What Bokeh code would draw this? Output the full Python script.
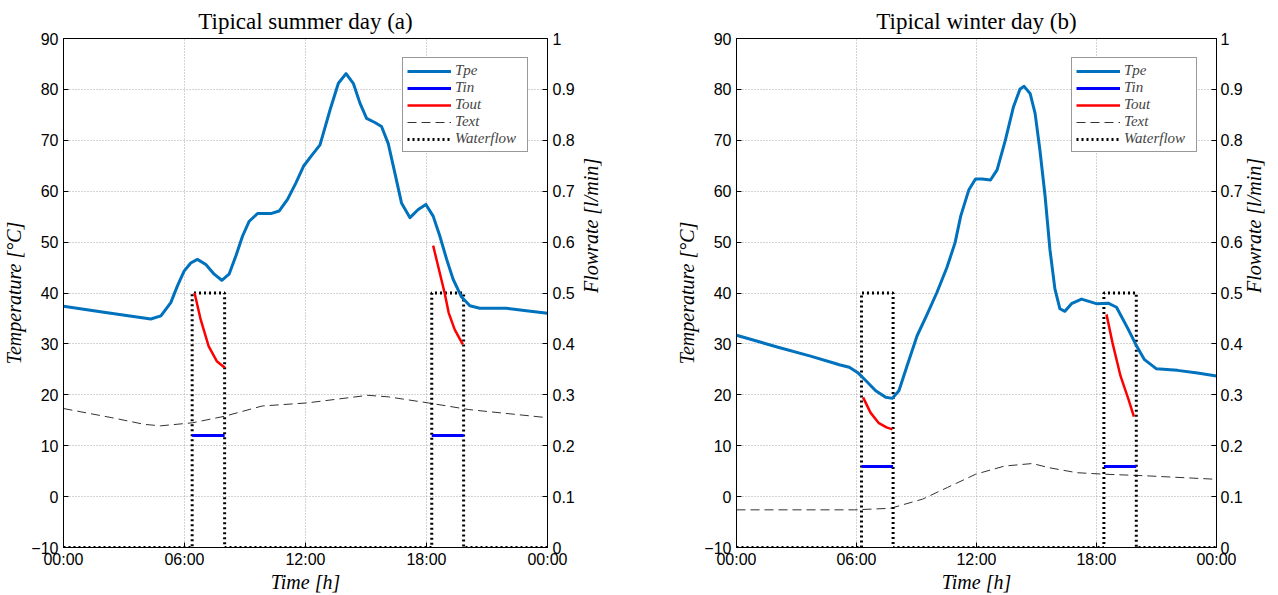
import math
from bokeh.plotting import figure
from bokeh.models import Range1d, LinearAxis, FixedTicker, Legend, LegendItem
from bokeh.layouts import row
from bokeh.embed import file_html
from bokeh.resources import INLINE

# ---------------- data ----------------
x_ticks = [0, 6, 12, 18, 24]
x_tick_labels = ["00:00", "06:00", "12:00", "18:00", "00:00"]
temp_ticks = list(range(-10, 91, 10))
flow_ticks = [0, 0.1, 0.2, 0.3, 0.4, 0.5, 0.6, 0.7, 0.8, 0.9, 1]
flow_tick_labels = ["0", "0.1", "0.2", "0.3", "0.4", "0.5", "0.6", "0.7", "0.8", "0.9", "1"]

# summer
summer_tpe_h = [0, 2, 4.33, 4.83, 5.32, 5.65, 5.98, 6.31, 6.64, 7.06, 7.47, 7.85, 8.21, 8.55,
                8.88, 9.21, 9.62, 10.28, 10.69, 11.11, 11.52, 11.9, 12.3, 12.72, 13.22, 13.63,
                14.01, 14.37, 14.7, 15.03, 15.44, 15.77, 16.1, 16.43, 16.76, 17.18, 17.59,
                17.97, 18.33, 18.66, 19.0, 19.32, 19.74, 20.15, 20.64, 21.96, 22.95, 24]
summer_tpe = [37.4, 36.2, 34.9, 35.5, 38.1, 41.4, 44.3, 45.9, 46.6, 45.6, 43.7, 42.5, 43.7, 47.3,
              51.2, 54.1, 55.6, 55.6, 56.1, 58.4, 61.6, 64.9, 67.0, 69.1, 76.0, 81.2,
              83.1, 81.2, 77.3, 74.3, 73.5, 72.7, 69.4, 63.6, 57.7, 54.8, 56.4,
              57.4, 55.1, 51.2, 46.6, 42.7, 39.2, 37.5, 37.0, 37.0, 36.5, 36.0]
summer_text_h = [0, 2.4, 4.0, 4.8, 6.4, 8.0, 9.85, 12.07, 15.1, 16.1, 18.1, 20.1, 24]
summer_text = [17.3, 15.5, 14.2, 13.9, 14.5, 15.8, 17.8, 18.4, 19.9, 19.6, 18.4, 17.1, 15.5]
summer_tout1_h = [6.5, 6.8, 7.2, 7.6, 8.0]
summer_tout1 = [40.0, 34.8, 29.5, 26.6, 25.3]
summer_tout2_h = [18.33, 18.9, 19.1, 19.4, 19.8]
summer_tout2 = [49.3, 40.0, 36.1, 32.8, 29.9]
summer_pulses = [(6.38, 7.99), (18.26, 19.84)]
summer_tin = 12.0

# winter
winter_tpe_h = [0, 2.03, 3.7, 4.9, 5.14, 5.64, 6.05, 6.46, 6.96, 7.46, 7.79, 8.12, 8.53, 9.03,
                9.53, 10.02, 10.52, 10.93, 11.21, 11.62, 11.95, 12.28, 12.7, 13.03, 13.44,
                13.85, 14.18, 14.38, 14.68, 14.93, 15.17, 15.43, 15.67, 15.92, 16.17, 16.42,
                16.75, 17.25, 17.99, 18.58, 19.0, 19.57, 19.99, 20.4, 21.0, 22.05, 23.05, 24]
winter_tpe = [31.7, 29.4, 27.6, 26.2, 25.9, 25.4, 24.4, 22.8, 20.8, 19.5, 19.3, 20.8, 25.7, 31.6,
              35.8, 40.1, 45.0, 49.9, 55.1, 60.3, 62.4, 62.4, 62.2, 64.2, 70.0,
              76.6, 80.1, 80.6, 79.2, 75.3, 68.1, 59.0, 48.6, 40.8, 36.9, 36.4,
              37.9, 38.8, 37.9, 38.0, 37.2, 33.0, 29.7, 26.9, 25.1, 24.8, 24.3, 23.7]
winter_text_h = [0, 5.9, 7.7, 9.3, 10.55, 11.96, 13.4, 14.8, 15.6, 17.0, 18.4, 20.4, 24]
winter_text = [-2.6, -2.6, -2.3, -0.5, 1.8, 4.4, 6.0, 6.5, 5.7, 4.7, 4.4, 4.1, 3.4]
winter_tout1_h = [6.33, 6.7, 7.1, 7.5, 7.8]
winter_tout1 = [19.5, 16.5, 14.5, 13.6, 13.2]
winter_tout2_h = [18.5, 18.8, 19.2, 19.6, 19.87]
winter_tout2 = [35.8, 30.2, 23.7, 19.1, 15.7]
winter_pulses = [(6.25, 7.83), (18.37, 19.99)]
winter_tin = 5.9

flow_level = 0.5

TPE_C = "#0072BD"
SANS = "Liberation Sans"
SERIF = "Liberation Serif"


def make_panel(title, tpe_h, tpe, text_h, text, t1h, t1, t2h, t2, pulses, tin,
               border_left, border_right, r_tick_standoff, r_label_standoff):
    p = figure(width=639, height=595,
               x_range=Range1d(0, 24), y_range=Range1d(-10, 90),
               output_backend="svg", toolbar_location=None,
               min_border_left=border_left, min_border_right=border_right,
               min_border_top=38, min_border_bottom=46)
    p.extra_y_ranges = {"flow": Range1d(0, 1)}
    p.title.text = title
    p.title.text_font = SERIF
    p.title.text_font_size = "23px"
    p.title.text_font_style = "normal"
    p.title.text_color = "black"
    p.title.align = "center"
    p.title.offset = 0
    p.title.standoff = 9

    p.outline_line_color = "black"
    p.outline_line_width = 1
    p.outline_line_alpha = 1
    p.background_fill_color = "white"
    p.border_fill_color = "white"

    # axes
    p.xaxis.ticker = FixedTicker(ticks=x_ticks)
    p.xaxis.major_label_overrides = {t: l for t, l in zip(x_ticks, x_tick_labels)}
    p.xaxis.axis_label = "Time [h]"
    p.yaxis.ticker = FixedTicker(ticks=temp_ticks)
    p.yaxis.axis_label = "Temperature [°C]"

    ax_r = LinearAxis(y_range_name="flow", ticker=FixedTicker(ticks=flow_ticks),
                      major_label_overrides={t: l for t, l in zip(flow_ticks, flow_tick_labels)},
                      axis_label="Flowrate [l/min]")
    ax_r.axis_label_orientation = math.pi / 2
    p.add_layout(ax_r, "right")

    for ax in [p.xaxis[0], p.yaxis[0], ax_r]:
        ax.major_label_text_font = SANS
        ax.major_label_text_font_size = "16px"
        ax.major_label_text_color = "black"
        ax.axis_label_text_font = SERIF
        ax.axis_label_text_font_style = "italic"
        ax.axis_label_text_font_size = "20px"
        ax.axis_label_text_color = "black"
        ax.major_tick_in = 5
        ax.major_tick_out = 0
        ax.minor_tick_in = 0
        ax.minor_tick_out = 0
        ax.axis_line_color = "black"
        ax.major_tick_line_color = "black"
        ax.major_label_standoff = 5
        ax.axis_label_standoff = 3
    ax_r.major_label_standoff = r_tick_standoff
    ax_r.axis_label_standoff = r_label_standoff
    ax_r.axis_label_text_line_height = 1.0
    p.xaxis.major_label_standoff = 3
    p.xaxis.axis_label_standoff = 0
    p.xaxis.major_label_text_line_height = 1.0
    p.xaxis.axis_label_text_line_height = 1.0

    for g in [p.xgrid[0], p.ygrid[0]]:
        g.grid_line_color = "#a8a8a8"
        g.grid_line_dash = "1 2"
        g.grid_line_width = 1
    p.xgrid.ticker = FixedTicker(ticks=x_ticks)
    p.ygrid.ticker = FixedTicker(ticks=temp_ticks)

    # Text (outdoor)
    r_text = p.line(text_h, text, line_color="#333333", line_width=1, line_dash="9 5")
    # Waterflow step series
    fx, fy = [0], [0]
    for a, b in pulses:
        fx += [a, a, b, b]
        fy += [0, flow_level, flow_level, 0]
    fx.append(24)
    fy.append(0)
    r_flow = p.line(fx, fy, y_range_name="flow", line_color="black", line_width=3,
                    line_dash="2 3")
    # Tin
    tx, ty = [], []
    for a, b in pulses:
        if tx:
            tx.append(float("nan"))
            ty.append(float("nan"))
        tx += [a, b]
        ty += [tin, tin]
    r_tin = p.line(tx, ty, line_color="#0000FF", line_width=3)
    # Tout
    r_tout = p.line(list(t1h) + [float("nan")] + list(t2h),
                    list(t1) + [float("nan")] + list(t2),
                    line_color="#FF0000", line_width=2.5)
    # Tpe
    r_tpe = p.line(tpe_h, tpe, line_color=TPE_C, line_width=3, line_join="round")

    legend = Legend(items=[
        LegendItem(label="Tpe", renderers=[r_tpe]),
        LegendItem(label="Tin", renderers=[r_tin]),
        LegendItem(label="Tout", renderers=[r_tout]),
        LegendItem(label="Text", renderers=[r_text]),
        LegendItem(label="Waterflow", renderers=[r_flow]),
    ], location="top_right")
    legend.label_text_font = SERIF
    legend.label_text_font_style = "italic"
    legend.label_text_font_size = "15px"
    legend.label_text_line_height = 1.0
    legend.glyph_width = 44
    legend.glyph_height = 14
    legend.label_height = 14
    legend.label_width = 68
    legend.spacing = 0
    legend.padding = 4
    legend.margin = 19
    legend.label_standoff = 4
    legend.border_line_color = "#333333"
    legend.border_line_width = 1
    legend.background_fill_alpha = 1
    p.add_layout(legend)
    return p


p1 = make_panel("Tipical summer day (a)", summer_tpe_h, summer_tpe, summer_text_h, summer_text,
                summer_tout1_h, summer_tout1, summer_tout2_h, summer_tout2,
                summer_pulses, summer_tin, 62, 92, 5, 13)
p2 = make_panel("Tipical winter day (b)", winter_tpe_h, winter_tpe, winter_text_h, winter_text,
                winter_tout1_h, winter_tout1, winter_tout2_h, winter_tout2,
                winter_pulses, winter_tin, 97, 58, 4, 8)

layout = row(p1, p2, spacing=0)
open("out.html", "w").write(file_html(layout, INLINE))
